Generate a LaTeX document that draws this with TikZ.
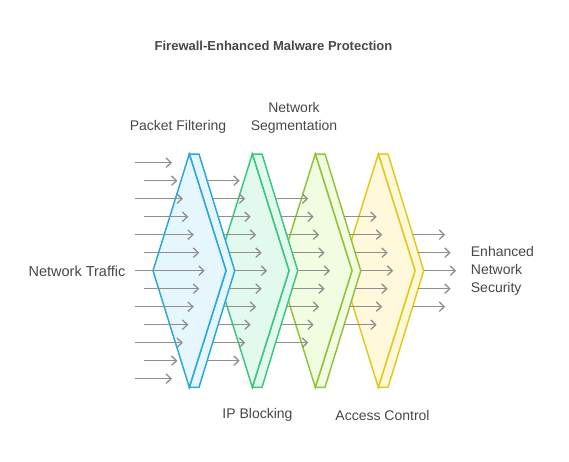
\documentclass[tikz,border=0pt]{standalone}
\usepackage{fontspec}
\setmainfont{Liberation Sans}
\usetikzlibrary{arrows.meta}

\newlength{\du}
\setlength{\du}{1pt}

\definecolor{flowgray}{HTML}{8F8F8F}
\definecolor{textgray}{HTML}{474747}
\definecolor{filterline}{HTML}{2AA8DC}
\definecolor{filterfill}{HTML}{E6F6FD}
\definecolor{blockline}{HTML}{3CC680}
\definecolor{blockfill}{HTML}{E2FAEE}
\definecolor{segline}{HTML}{93C23C}
\definecolor{segfill}{HTML}{F2FCE0}
\definecolor{accessline}{HTML}{E3C81E}
\definecolor{accessfill}{HTML}{FFF8DB}

\tikzset{
  flowarrow/.style={draw=flowgray, line width=1.3\du,
    -{Straight Barb[length=5pt,width=9.5pt]}},
  plaintext/.style={text=textgray, font=\fontsize{14}{18.2}\selectfont, inner sep=0pt},
  wall/.style={line width=1.5\du, line join=miter},
}

% one wall of the firewall, #1 = x of its top corner
\newcommand{\firewall}[3]{%
  \begin{scope}[xshift=#1\du]
  \filldraw[wall, draw=#2, fill=#3]
    (0,154)--(9.7,154)--(45.4,270.7)--(9.7,387.3)--(0,387.3)--(36.7,270.7)--cycle;
  \filldraw[wall, draw=#2, fill=#3]
    (0,154)--(36.7,270.7)--(0,387.3)--(-36.3,270.7)--cycle;
  \end{scope}}

\begin{document}
\begin{tikzpicture}[x=1\du, y=-1\du]
\useasboundingbox (0,0) rectangle (569,461);

% walls, back to front
\firewall{378.3}{accessline}{accessfill}
\firewall{315.3}{segline}{segfill}
\firewall{252.3}{blockline}{blockfill}
\firewall{189.3}{filterline}{filterfill}

% incoming traffic
\foreach \k in {-6,...,6} {
  \pgfmathsetmacro\sx{mod(abs(\k),2)==1 ? 144 : 134.7}
  \pgfmathsetmacro\tx{204.7-5.45*abs(\k)}
  \coordinate (in-\k) at (\sx,270.7+18*\k);
  \coordinate (intip-\k) at (\tx,270.7+18*\k);
  \draw[flowarrow] (in-\k) -- (intip-\k);
}

% traffic passed on by each wall
\foreach \j/\n in {1/5,2/4,3/3,4/2} {
  \foreach \k in {-\n,...,\n} {
    \pgfmathsetmacro\sx{189.3+63*(\j-1)+45.4-5.5*abs(\k)}
    \coordinate (out-\j-\k) at (\sx,270.7+18*\k);
    \coordinate (outtip-\j-\k) at (\sx+32.5,270.7+18*\k);
    \draw[flowarrow] (out-\j-\k) -- (outtip-\j-\k);
  }
}

% labels
\node[plaintext, font=\fontsize{13}{16}\selectfont\bfseries] (title) at (273.5,45.7)
  {Firewall-Enhanced Malware Protection};
\node[plaintext] (filtering) at (178,127) {Packet Filtering};
\node[plaintext, align=center] (segmentation) at (294,118) {Network\\Segmentation};
\node[plaintext, anchor=east, font=\fontsize{14.5}{18.2}\selectfont] (traffic) at (125.5,271)
  {Network Traffic};
\node[plaintext, align=left, anchor=west] (security) at (470.7,271)
  {Enhanced\\Network\\Security};
\node[plaintext] (blocking) at (257.5,415) {IP Blocking};
\node[plaintext] (access) at (382.5,415) {Access Control};
\end{tikzpicture}
\end{document}
